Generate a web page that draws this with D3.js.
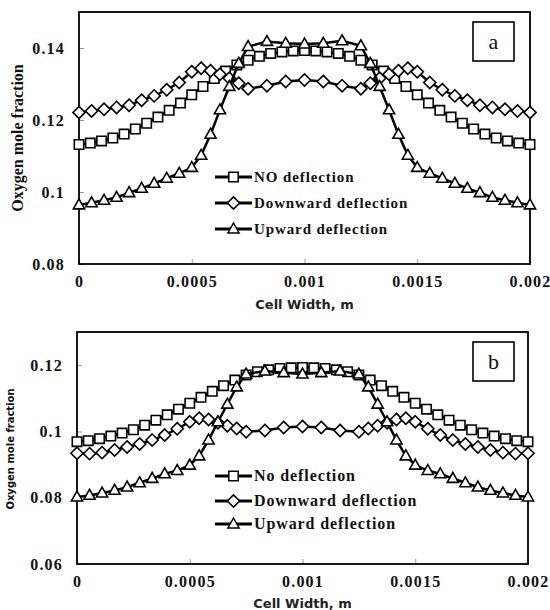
<!DOCTYPE html>
<html>
<head>
<meta charset="utf-8">
<script src="https://cdn.jsdelivr.net/npm/d3@7"></script>
<style>
  html, body { margin: 0; padding: 0; background: #fff; }
  svg { display: block; }
</style>
</head>
<body>
<script>
// ---------------- DATA ----------------
const xTickValues = [0, 0.0005, 0.001, 0.0015, 0.002];
const xTickLabels = ["0", "0.0005", "0.001", "0.0015", "0.002"];
const yTickValuesA = [0.08, 0.1, 0.12, 0.14];
const yTickLabelsA = ["0.08", "0.1", "0.12", "0.14"];
const yTickValuesB = [0.06, 0.08, 0.1, 0.12];
const yTickLabelsB = ["0.06", "0.08", "0.1", "0.12"];

const seriesNamesA = ["NO deflection", "Downward deflection", "Upward deflection"];
const seriesNamesB = ["No deflection", "Downward deflection", "Upward deflection"];

// x positions (m) of the square-marker series
const xSquare = [0, 0.00005, 0.0001, 0.00015, 0.0002, 0.00025, 0.0003, 0.00035, 0.0004, 0.00045,
  0.0005, 0.00055, 0.0006, 0.00065, 0.0007, 0.00075, 0.0008, 0.00085, 0.0009, 0.00095,
  0.001, 0.00105, 0.0011, 0.00115, 0.0012, 0.00125, 0.0013, 0.00135, 0.0014, 0.00145,
  0.0015, 0.00155, 0.0016, 0.00165, 0.0017, 0.00175, 0.0018, 0.00185, 0.0019, 0.00195, 0.002];

// x positions (m) of the diamond / triangle series
const xMesh = [0, 0.0000556, 0.0001111, 0.0001667, 0.0002222, 0.0002778, 0.0003333, 0.0003889, 0.0004444,
  0.0005, 0.0005417, 0.0005833, 0.000625, 0.0006667, 0.0007083, 0.00075, 0.0008333, 0.0009167,
  0.001, 0.0010833, 0.0011667, 0.00125, 0.0012917, 0.0013333, 0.001375, 0.0014167, 0.0014583,
  0.0015, 0.0015556, 0.0016111, 0.0016667, 0.0017222, 0.0017778, 0.0018333, 0.0018889, 0.0019444, 0.002];

// Panel a
const noDeflectionA = [0.1132, 0.1136, 0.1142, 0.1150, 0.1161, 0.1175, 0.1191, 0.1208, 0.1227, 0.1247,
  0.1270, 0.1293, 0.1315, 0.1336, 0.1353, 0.1366, 0.1377, 0.1385, 0.1389, 0.1392, 0.1393,
  0.1392, 0.1389, 0.1385, 0.1377, 0.1366, 0.1353, 0.1336, 0.1315, 0.1293, 0.1270,
  0.1247, 0.1227, 0.1208, 0.1191, 0.1175, 0.1161, 0.1150, 0.1142, 0.1136, 0.1132];
const downwardA = [0.1221, 0.1225, 0.1230, 0.1235, 0.1241, 0.1255, 0.1267, 0.1284, 0.1304,
  0.1334, 0.1344, 0.1337, 0.1327, 0.1316, 0.1302, 0.1287, 0.1295, 0.1307,
  0.1311, 0.1307, 0.1295, 0.1287, 0.1302, 0.1316, 0.1327, 0.1337, 0.1344,
  0.1334, 0.1304, 0.1284, 0.1267, 0.1255, 0.1241, 0.1235, 0.1230, 0.1225, 0.1221];
const upwardA = [0.0964, 0.0970, 0.0977, 0.0985, 0.0998, 0.1010, 0.1024, 0.1038, 0.1052,
  0.1068, 0.1102, 0.1160, 0.1228, 0.1293, 0.1357, 0.1404, 0.1418, 0.1413,
  0.1411, 0.1413, 0.1420, 0.1406, 0.1357, 0.1293, 0.1228, 0.1160, 0.1102,
  0.1068, 0.1052, 0.1038, 0.1024, 0.1010, 0.0998, 0.0985, 0.0977, 0.0970, 0.0964];

// Panel b
const noDeflectionB = [0.0969, 0.0972, 0.0978, 0.0986, 0.0995, 0.1005, 0.1019, 0.1034, 0.1050, 0.1067,
  0.1085, 0.1103, 0.1121, 0.1138, 0.1155, 0.1170, 0.1180, 0.1186, 0.1190, 0.1192, 0.1193,
  0.1192, 0.1190, 0.1186, 0.1180, 0.1170, 0.1155, 0.1138, 0.1121, 0.1103, 0.1085,
  0.1067, 0.1050, 0.1034, 0.1019, 0.1005, 0.0995, 0.0986, 0.0978, 0.0972, 0.0969];
const downwardB = [0.0934, 0.0933, 0.0936, 0.0944, 0.0953, 0.0962, 0.0974, 0.0989, 0.1008,
  0.1029, 0.1040, 0.1036, 0.1026, 0.1017, 0.1009, 0.0999, 0.1003, 0.1012,
  0.1015, 0.1012, 0.1003, 0.0999, 0.1009, 0.1017, 0.1026, 0.1036, 0.1040,
  0.1029, 0.1008, 0.0989, 0.0974, 0.0962, 0.0953, 0.0944, 0.0936, 0.0933, 0.0934];
const upwardB = [0.0802, 0.0807, 0.0814, 0.0822, 0.0832, 0.0845, 0.0858, 0.0872, 0.0882,
  0.0898, 0.0926, 0.0974, 0.1029, 0.1082, 0.1134, 0.1173, 0.1182, 0.1177,
  0.1173, 0.1177, 0.1182, 0.1173, 0.1134, 0.1082, 0.1029, 0.0974, 0.0926,
  0.0898, 0.0882, 0.0872, 0.0858, 0.0845, 0.0832, 0.0822, 0.0814, 0.0807, 0.0802];

// ---------------- DRAW ----------------
const W = 550, H = 610;
const svg = d3.select("body").append("svg").attr("width", W).attr("height", H);
svg.append("rect").attr("width", W).attr("height", H).attr("fill", "#fff");

const serif = "'Liberation Serif','Times New Roman',serif";
const sans = "'DejaVu Sans',Verdana,sans-serif";

function markerPath(shape) {
  if (shape === "square") { const s = 4.7; return `M${-s},${-s}H${s}V${s}H${-s}Z`; }
  if (shape === "diamond") { const r = 6.1; return `M0,${-r}L${r},0L0,${r}L${-r},0Z`; }
  const w = 5.6, t = 6.0, b = 3.9; // triangle
  return `M0,${-t}L${w},${b}L${-w},${b}Z`;
}

const panels = [
  {
    left: 79, right: 530, top: 12, bottom: 264, yDomain: [0.08, 0.15],
    yTicks: yTickValuesA, yLabels: yTickLabelsA, names: seriesNamesA, tag: "a",
    series: [
      { xs: xSquare, ys: noDeflectionA, shape: "square" },
      { xs: xMesh, ys: downwardA, shape: "diamond" },
      { xs: xMesh, ys: upwardA, shape: "triangle" }
    ],
    legendY: [177, 203, 229], legendFont: 15, legendLS: 0.9,
    yTitle: { x: 17, y: 138, font: serif, size: 16, weight: "bold" },
    xTitleY: 304
  },
  {
    left: 77, right: 528, top: 332, bottom: 564, yDomain: [0.06, 0.13],
    yTicks: yTickValuesB, yLabels: yTickLabelsB, names: seriesNamesB, tag: "b",
    series: [
      { xs: xSquare, ys: noDeflectionB, shape: "square" },
      { xs: xMesh, ys: downwardB, shape: "diamond" },
      { xs: xMesh, ys: upwardB, shape: "triangle" }
    ],
    legendY: [476, 501, 524], legendFont: 16, legendLS: 0.9,
    yTitle: { x: 10, y: 449, font: sans, size: 10, weight: "bold" },
    xTitleY: 603
  }
];

panels.forEach(p => {
  const g = svg.append("g");
  const x = d3.scaleLinear().domain([0, 0.002]).range([p.left, p.right]);
  const y = d3.scaleLinear().domain(p.yDomain).range([p.bottom, p.top]);

  // axes (inward ticks)
  const xAxis = d3.axisBottom(x).tickValues(xTickValues)
    .tickFormat((d, i) => xTickLabels[i]).tickSizeInner(-5).tickSizeOuter(0).tickPadding(12);
  const yAxis = d3.axisLeft(y).tickValues(p.yTicks)
    .tickFormat((d, i) => p.yLabels[i]).tickSizeInner(-5).tickSizeOuter(0).tickPadding(14);

  const gx = g.append("g").attr("transform", `translate(0,${p.bottom})`).call(xAxis);
  const gy = g.append("g").attr("transform", `translate(${p.left},0)`).call(yAxis);
  [gx, gy].forEach(a => {
    a.select(".domain").remove();
    a.selectAll(".tick line").attr("stroke", "#9a9a9a").attr("stroke-width", 1);
    a.selectAll(".tick text")
      .attr("fill", "#111")
      .style("font-family", serif).style("font-size", "16px").style("font-weight", "bold")
      .style("letter-spacing", "1.2px");
  });

  // frame
  g.append("rect").attr("x", p.left).attr("y", p.top)
    .attr("width", p.right - p.left).attr("height", p.bottom - p.top)
    .attr("fill", "none").attr("stroke", "#000").attr("stroke-width", 1.8);

  // series
  const line = d3.line().x(d => x(d[0])).y(d => y(d[1]));
  p.series.forEach(s => {
    const pts = s.xs.map((xv, i) => [xv, s.ys[i]]);
    g.append("path").datum(pts).attr("d", line)
      .attr("fill", "none").attr("stroke", "#000").attr("stroke-width", 2.5);
    g.append("g").selectAll("path").data(pts).join("path")
      .attr("transform", d => `translate(${x(d[0])},${y(d[1])})`)
      .attr("d", markerPath(s.shape))
      .attr("fill", "#fff").attr("stroke", "#000").attr("stroke-width", 1.6);
  });

  // legend
  p.series.forEach((s, i) => {
    const ly = p.legendY[i];
    g.append("line").attr("x1", 215).attr("x2", 252).attr("y1", ly).attr("y2", ly)
      .attr("stroke", "#000").attr("stroke-width", 2.8);
    g.append("path").attr("transform", `translate(233.5,${ly})`).attr("d", markerPath(s.shape))
      .attr("fill", "#fff").attr("stroke", "#000").attr("stroke-width", 1.5);
    g.append("text").attr("x", 254).attr("y", ly).attr("dy", "0.33em")
      .text(p.names[i]).attr("fill", "#111")
      .style("font-family", serif).style("font-size", p.legendFont + "px").style("font-weight", "bold")
      .style("letter-spacing", p.legendLS + "px");
  });

  // panel tag box
  const bx = 473, bw = 41, bh = 39, by = p.top + 10;
  g.append("rect").attr("x", bx).attr("y", by).attr("width", bw).attr("height", bh)
    .attr("fill", "#fff").attr("stroke", "#000").attr("stroke-width", 1.6);
  g.append("text").attr("x", bx + bw / 2).attr("y", by + bh / 2).attr("dy", "0.33em")
    .attr("text-anchor", "middle").text(p.tag).attr("fill", "#111")
    .style("font-family", serif).style("font-size", "22px");

  // axis titles
  g.append("text").attr("x", (p.left + p.right) / 2).attr("y", p.xTitleY).attr("dy", "0.35em")
    .attr("text-anchor", "middle").text("Cell Width, m").attr("fill", "#222")
    .style("font-family", sans).style("font-size", "13px").style("font-weight", "bold");
  g.append("text").attr("transform", `translate(${p.yTitle.x},${p.yTitle.y}) rotate(-90)`)
    .attr("dy", "0.35em").attr("text-anchor", "middle").text("Oxygen mole fraction").attr("fill", "#111")
    .style("font-family", p.yTitle.font).style("font-size", p.yTitle.size + "px")
    .style("font-weight", p.yTitle.weight);
});
</script>
</body>
</html>
